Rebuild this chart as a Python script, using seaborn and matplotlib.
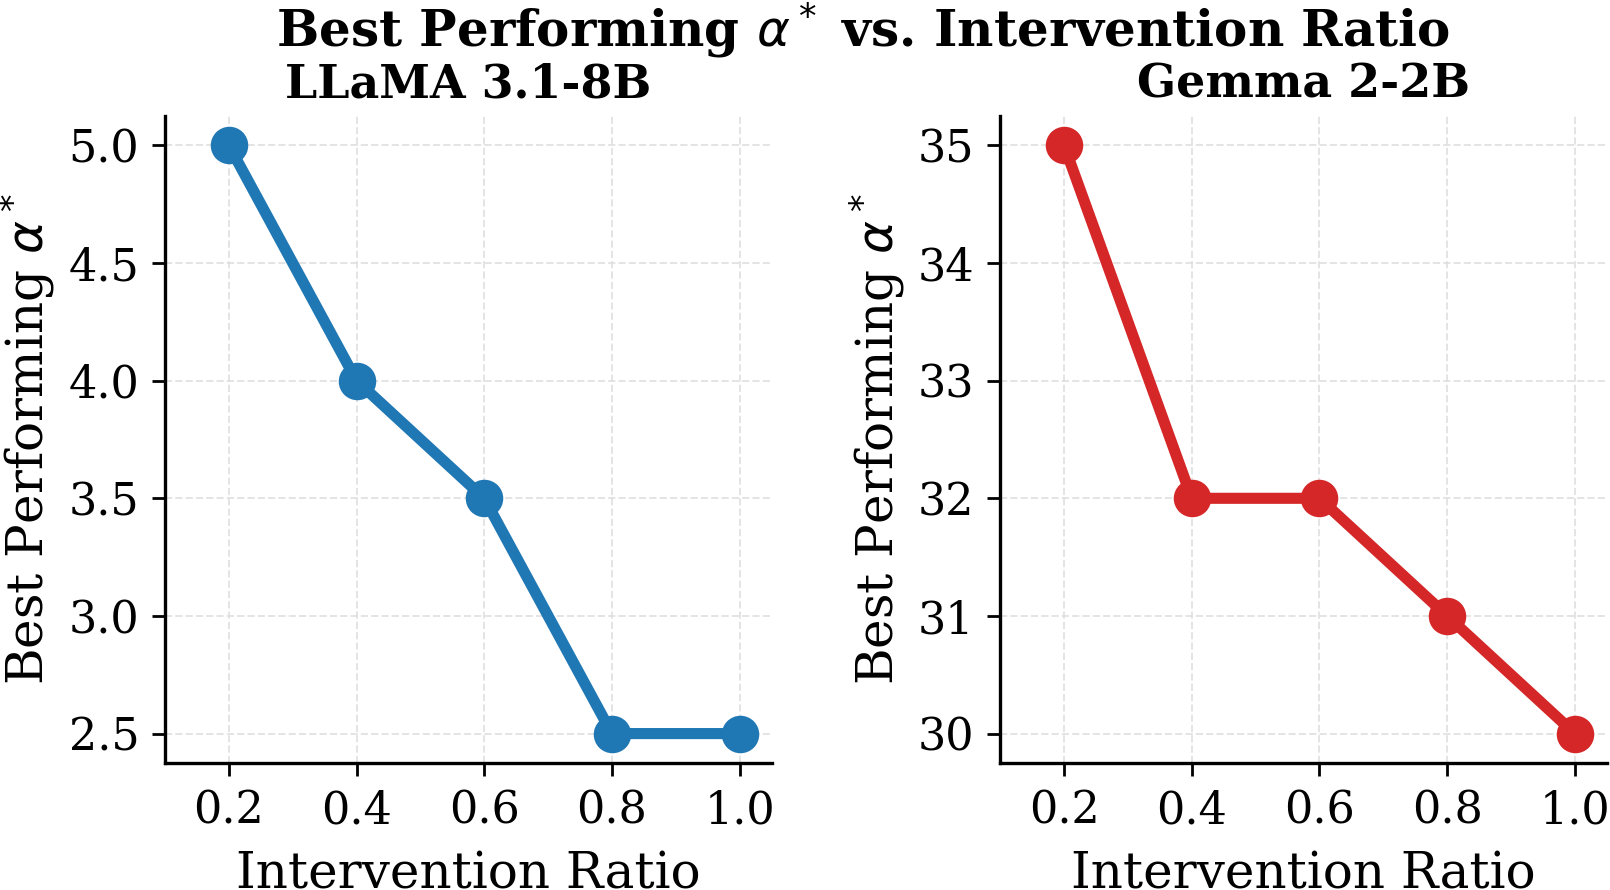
import matplotlib
matplotlib.use("Agg")
import matplotlib.pyplot as plt
import seaborn as sns
import pandas as pd

# values
ratios = [0.2, 0.4, 0.6, 0.8, 1.0]
llama_alpha = [5.0, 4.0, 3.5, 2.5, 2.5]
gemma_alpha = [35, 32, 32, 31, 30]
gemma_ticks = [35, 34, 33, 32, 31, 30]
model_names = ['LLaMA 3.1-8B', 'Gemma 2-2B']
colors = ['#1f77b4', '#d62728']

sns.set_theme(style='ticks')
plt.rcParams['font.family'] = ['DejaVu Serif']
plt.rcParams['mathtext.fontset'] = 'dejavusans'
plt.rcParams['text.color'] = 'black'
plt.rcParams['axes.labelcolor'] = 'black'
plt.rcParams['xtick.color'] = 'black'
plt.rcParams['ytick.color'] = 'black'

fig, axes = plt.subplots(1, 2, figsize=(8.05, 4.45), dpi=200)
fig.subplots_adjust(left=0.1025, right=0.998, top=0.8697, bottom=0.1427, wspace=0.377)

for ax, name, vals, c in zip(axes, model_names, [llama_alpha, gemma_alpha], colors):
    df = pd.DataFrame({'ratio': ratios, 'alpha': vals})
    sns.lineplot(data=df, x='ratio', y='alpha', ax=ax, color=c, marker='o',
                 linewidth=4.0, markersize=13.5, markeredgewidth=0)
    ax.set_xlim(0.1, 1.05)
    ax.set_xticks(ratios)
    ax.set_xticklabels([f'{r:.1f}' for r in ratios])
    ax.set_title(name, fontsize=16.5, fontweight='bold', pad=6.5)
    ax.set_xlabel('Intervention Ratio', fontsize=18, labelpad=6.5)
    ax.set_ylabel(r'Best Performing $\alpha^*$', fontsize=18)
    ax.grid(True, linestyle='--', color='#dddddd', linewidth=0.7, alpha=0.8)
    ax.tick_params(labelsize=16, length=4.8, width=1.0, pad=4.5)
    for s in ['left', 'bottom']:
        ax.spines[s].set_linewidth(1.2)
        ax.spines[s].set_color('black')
    sns.despine(ax=ax)

axes[1].set_yticks(gemma_ticks)

fig.suptitle(r'Best Performing $\alpha^*$ vs. Intervention Ratio', x=0.536, y=0.948,
             va='baseline', fontsize=18, fontweight='bold')

fig.savefig('out.png', dpi=200)
